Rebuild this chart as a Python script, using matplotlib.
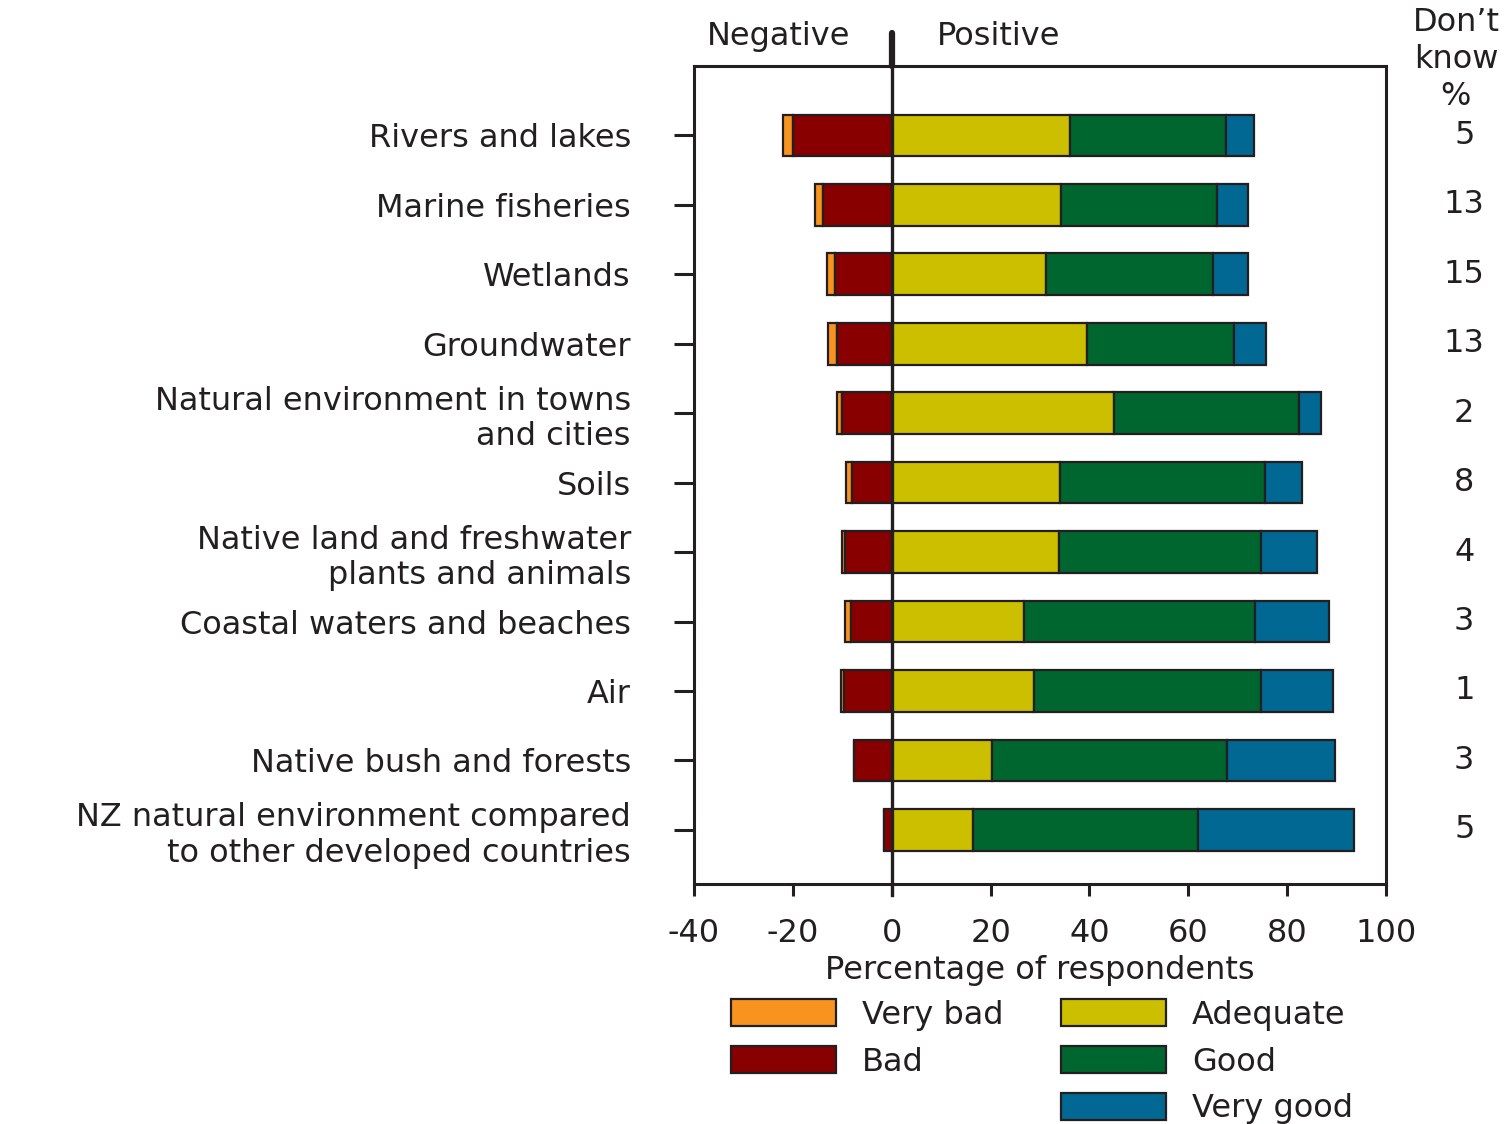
"""NZ survey: perceived state of the natural environment, diverging stacked bars"""
import numpy as np
import matplotlib.pyplot as plt
from matplotlib.patches import Patch

categories = ["Rivers and lakes",
              "Marine fisheries",
              "Wetlands",
              "Groundwater",
              "Natural environment in towns\nand cities",
              "Soils",
              "Native land and freshwater\nplants and animals",
              "Coastal waters and beaches",
              "Air",
              "Native bush and forests",
              "NZ natural environment compared\nto other developed countries"]

very_bad = np.array([2, 1.5, 1.5, 1.8, 1, 1.2, 0.6, 1.1, 0.7, 0, 0])
bad = np.array([20, 14, 11.5, 11, 10, 8, 9.5, 8.3, 9.6, 7.7, 1.6])
adequate = np.array([36, 34.3, 31.2, 39.5, 45, 34.1, 33.9, 26.8, 28.8, 20.3, 16.4])
good = np.array([31.6, 31.6, 33.8, 29.7, 37.3, 41.5, 40.9, 46.6, 46, 47.5, 45.5])
very_good = np.array([5.7, 6.1, 7.1, 6.5, 4.6, 7.3, 11.2, 15, 14.5, 21.9, 31.7])
dont_know = [5, 13, 15, 13, 2, 8, 4, 3, 1, 3, 5]

xticks = [-40, -20, 0, 20, 40, 60, 80, 100]

colors = {"Very bad": "#f7931e", "Bad": "#880000", "Adequate": "#ccbf00",
          "Good": "#00662f", "Very good": "#006892"}
ink = "#231f20"

plt.rcParams['font.family'] = ['DejaVu Sans']
fs = 23

fig = plt.figure(figsize=(15.1, 11.24), dpi=100)
ax = fig.add_axes([0.4596, 0.2135, 0.4583, 0.7278])

y = np.arange(len(categories))
h = 0.6
kw = dict(height=h, edgecolor=ink, linewidth=1.6, zorder=3)
ax.barh(y, very_bad, left=-(bad + very_bad), color=colors["Very bad"], **kw)
ax.barh(y, bad, left=-bad, color=colors["Bad"], **kw)
ax.barh(y, adequate, left=0, color=colors["Adequate"], **kw)
ax.barh(y, good, left=adequate, color=colors["Good"], **kw)
ax.barh(y, very_good, left=adequate + good, color=colors["Very good"], **kw)

ax.set_xlim(-40, 100)
ax.set_ylim(10.78, -1.0)
ax.set_xticks(xticks)
ax.set_xticklabels([str(t) for t in xticks], fontsize=fs, color=ink)
ax.set_yticks(y)
ax.set_yticklabels(categories, fontsize=fs, color=ink, ha='right',
                   multialignment='right', linespacing=1.2)
ax.tick_params(axis='y', length=14.4, width=2.2, pad=31, color=ink)
ax.tick_params(axis='x', length=8.6, width=2.2, pad=16, color=ink)
for sp in ax.spines.values():
    sp.set_linewidth(2.2)
    sp.set_color(ink)
ax.set_xlabel("Percentage of respondents", fontsize=fs, color=ink, labelpad=4)

# zero line, poking out above the frame
ax.plot([0, 0], [-1.0, 10.94], color=ink, lw=2.4, clip_on=False, zorder=5)
ax.plot([0, 0], [-1.48, -1.0], color=ink, lw=4.5, solid_capstyle='round',
        clip_on=False, zorder=5)

ax.text(-22.8, -1.43, "Negative", fontsize=fs, color=ink, ha='center', va='center')
ax.text(21.6, -1.43, "Positive", fontsize=fs, color=ink, ha='center', va='center')

# don't know column
tr = ax.get_yaxis_transform()
ax.text(1.101, -1.1, "Don\u2019t\nknow\n%", transform=tr, fontsize=fs, color=ink,
        ha='center', va='center', linespacing=1.25)
for yi, d in zip(y, dont_know):
    ax.text(1.113, yi, str(d), transform=tr, fontsize=fs, color=ink,
            ha='center', va='center')

handles = [Patch(facecolor=colors["Very bad"], edgecolor=ink, lw=1.6),
           Patch(facecolor=colors["Bad"], edgecolor=ink, lw=1.6),
           Patch(facecolor='none', edgecolor='none'),
           Patch(facecolor=colors["Adequate"], edgecolor=ink, lw=1.6),
           Patch(facecolor=colors["Good"], edgecolor=ink, lw=1.6),
           Patch(facecolor=colors["Very good"], edgecolor=ink, lw=1.6)]
labels = ["Very bad", "Bad", "", "Adequate", "Good", "Very good"]
fig.legend(handles, labels, ncol=2, loc='upper left', bbox_to_anchor=(0.484, 0.111),
           frameon=False, fontsize=fs, handlelength=3.3, handleheight=0.92,
           labelspacing=0.48, handletextpad=0.8, columnspacing=1.8,
           borderaxespad=0, borderpad=0, labelcolor=ink)

plt.savefig("out.png", dpi=100)
